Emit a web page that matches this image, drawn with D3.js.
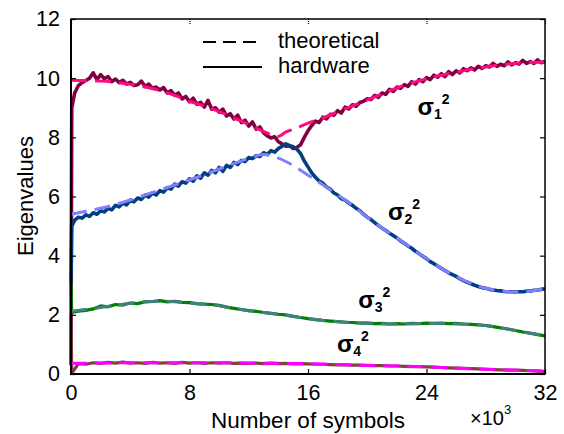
<!DOCTYPE html>
<html><head><meta charset="utf-8">
<script src="https://cdn.jsdelivr.net/npm/d3@7"></script>
<style>
body{margin:0;background:#fff;}
text{font-family:"Liberation Sans",Arial,sans-serif;}
</style></head>
<body><svg id="c" width="564" height="434"></svg>
<script>
// ---------- data (x in thousands of symbols) ----------
const xTicks = [0, 8, 16, 24, 32];
const yTicks = [0, 2, 4, 6, 8, 10, 12];

// theoretical curves: [symbols (x10^3), eigenvalue]
const theo1 = [[0,9.93],[1,9.92],[2,9.9],[3,9.86],[4,9.79],[5,9.7],[6,9.58],[7,9.42],[8,9.22],[9,9.05],[10,8.87],[11,8.65],[12,8.43],[13,8.2],[14,8.03],[14.5,8.18],[15,8.27],[16,8.48],[17,8.66],[18,8.86],[19,9.06],[20,9.27],[21,9.47],[22,9.67],[23,9.84],[24,9.98],[25,10.1],[26,10.2],[27,10.3],[28,10.38],[29,10.45],[30,10.5],[31,10.53],[32,10.55]];
const theo2 = [[0,5.4],[1,5.5],[2,5.6],[3,5.73],[4,5.88],[5,6.05],[6,6.22],[7,6.39],[8,6.56],[9,6.74],[10,6.93],[11,7.11],[12,7.29],[13,7.42],[14,7.3],[15,7.05],[16,6.72],[17,6.4],[18,6.06],[19,5.7],[20,5.3],[21,4.93],[22,4.6],[23,4.25],[24,3.9],[25,3.57],[26,3.3],[27,3.06],[28,2.9],[29,2.81],[30,2.77],[31,2.8],[32,2.88]];
const theo3 = [[0,2.12],[1,2.18],[2,2.25],[3,2.32],[4,2.39],[5,2.44],[6,2.46],[7,2.44],[8,2.4],[9,2.36],[10,2.31],[11,2.22],[12,2.14],[13,2.08],[14,2.02],[15,1.95],[16,1.87],[17,1.81],[18,1.77],[19,1.74],[20,1.72],[21,1.7],[22,1.69],[23,1.7],[24,1.71],[25,1.71],[26,1.7],[27,1.68],[28,1.64],[29,1.56],[30,1.47],[31,1.38],[32,1.3]];
const theo4 = [[0,0.36],[2,0.37],[4,0.38],[6,0.38],[8,0.38],[10,0.38],[12,0.37],[14,0.36],[16,0.35],[18,0.32],[20,0.29],[22,0.27],[24,0.24],[26,0.2],[28,0.16],[30,0.13],[32,0.1]];

// hardware sample positions (x10^3 symbols)
const hwFine = [0, 0.05].concat(d3.range(1, 129).map(i => i * 0.25));
const hwCoarse = [0, 0.05].concat(d3.range(1, 65).map(i => i * 0.5));

const hw1 = [0.3,9.0,
 9.5,9.75,9.85,9.92,10.0,10.18,9.95,10.12,9.98,10.05,9.88,9.97,9.85,9.93,9.8,9.86,
 9.75,9.78,9.9,9.72,9.8,9.66,9.7,9.6,9.68,9.5,9.58,9.42,9.5,9.3,9.38,9.2,
 9.32,9.12,9.18,9.02,9.25,8.95,9.0,8.85,8.95,8.72,8.8,8.62,8.75,8.5,8.58,8.38,
 8.52,8.28,8.35,8.15,8.05,7.98,8.02,7.85,7.78,7.7,7.72,7.62,7.66,7.75,8.0,8.22,
 8.4,8.55,8.5,8.68,8.62,8.78,8.75,8.9,8.82,9.02,8.96,9.1,9.05,9.18,9.22,9.3,
 9.28,9.42,9.35,9.5,9.45,9.62,9.55,9.7,9.66,9.78,9.72,9.88,9.8,9.95,9.88,10.02,
 9.95,10.1,10.03,10.15,10.05,10.22,10.12,10.25,10.18,10.32,10.25,10.35,10.28,10.4,10.33,10.42,
 10.38,10.5,10.4,10.47,10.42,10.55,10.45,10.52,10.48,10.6,10.5,10.56,10.5,10.62,10.52,10.58];
const hw2 = [3.1,5.0,
 5.2,5.3,5.27,5.38,5.33,5.45,5.4,5.52,5.48,5.6,5.55,5.7,5.65,5.78,5.72,5.88,
 5.82,5.95,5.9,6.05,5.98,6.12,6.05,6.2,6.15,6.3,6.25,6.42,6.35,6.5,6.45,6.6,
 6.52,6.7,6.62,6.8,6.72,6.88,6.8,6.98,6.85,7.05,6.98,7.15,7.08,7.22,7.18,7.32,
 7.28,7.38,7.35,7.48,7.42,7.55,7.5,7.62,7.7,7.78,7.72,7.68,7.6,7.45,7.2,7.0,
 6.8,6.65,6.52,6.45,6.32,6.25,6.12,6.05,5.92,5.88,5.78,5.7,5.6,5.52,5.4,5.3,
 5.22,5.12,5.02,4.93,4.85,4.76,4.68,4.6,4.5,4.42,4.33,4.25,4.15,4.07,3.98,3.9,
 3.8,3.73,3.65,3.57,3.5,3.42,3.36,3.3,3.22,3.16,3.1,3.05,3.0,2.96,2.92,2.9,
 2.86,2.84,2.82,2.81,2.79,2.78,2.78,2.77,2.78,2.78,2.8,2.8,2.83,2.84,2.86,2.88];
const hw3 = [3.1,2.08,
 2.12,2.15,2.2,2.3,2.27,2.35,2.33,2.4,2.38,2.44,2.45,2.48,2.44,2.46,2.42,2.41,
 2.38,2.36,2.35,2.32,2.26,2.22,2.18,2.14,2.12,2.08,2.05,2.02,2.0,1.95,1.91,1.87,
 1.84,1.81,1.79,1.77,1.75,1.74,1.72,1.72,1.7,1.71,1.69,1.7,1.69,1.71,1.7,1.72,
 1.71,1.72,1.7,1.71,1.69,1.68,1.66,1.64,1.6,1.56,1.52,1.47,1.42,1.38,1.33,1.29];
const hw4 = [2.0,0.02,
 0.35,0.33,0.38,0.36,0.39,0.37,0.4,0.37,0.38,0.36,0.39,0.37,0.38,0.36,0.39,0.37,
 0.38,0.36,0.38,0.37,0.38,0.36,0.37,0.36,0.37,0.35,0.37,0.35,0.36,0.34,0.35,0.34,
 0.33,0.33,0.32,0.31,0.31,0.3,0.3,0.29,0.28,0.28,0.27,0.27,0.26,0.25,0.25,0.24,
 0.23,0.22,0.21,0.2,0.19,0.18,0.17,0.16,0.15,0.14,0.13,0.13,0.12,0.11,0.1,0.08];

const colors = {hw:["#800040","#004080","#008000","#804040"], th:["#ff0a80","#8080ff","#408080","#ff00ff"]};
const sigmaLabels = [
  {n:"1", x:23.4, y:8.75},
  {n:"2", x:21.4, y:5.2},
  {n:"3", x:19.4, y:2.23},
  {n:"4", x:17.95, y:0.74}
];

// ---------- chart ----------
const svg = d3.select("#c");
const x = d3.scaleLinear().domain([0,32]).range([71,545]);
const y = d3.scaleLinear().domain([0,12]).range([374,19]);
const line = d3.line().x(d => x(d[0])).y(d => y(d[1]));

const hwSeries = [[hwFine,hw1],[hwFine,hw2],[hwCoarse,hw3],[hwCoarse,hw4]];
hwSeries.forEach(([xs,vs],i) => {
  svg.append("path").datum(xs.map((k,j)=>[k,vs[j]]))
    .attr("d", line).attr("fill","none").attr("stroke", colors.hw[i])
    .attr("stroke-width", i < 2 ? 3.6 : 3.2).attr("stroke-linejoin","round");
});
[theo1,theo2,theo3,theo4].forEach((s,i) => {
  svg.append("path").datum(s).attr("d", line.curve(d3.curveMonotoneX))
    .attr("fill","none").attr("stroke", colors.th[i])
    .attr("stroke-width",3).attr("stroke-dasharray","16,8");
});

// axes
const ax = g => g.selectAll(".domain").remove();
svg.append("g").attr("transform","translate(71,0)")
  .call(d3.axisLeft(y).tickValues(yTicks).tickSize(-5).tickPadding(11)).call(ax);
svg.append("g").attr("transform","translate(0,374)")
  .call(d3.axisBottom(x).tickValues(xTicks).tickSize(-5).tickPadding(11)).call(ax);
svg.append("g").attr("transform","translate(545,0)")
  .call(d3.axisRight(y).tickValues(yTicks).tickSize(-5).tickFormat("")).call(ax);
svg.append("g").attr("transform","translate(0,19)")
  .call(d3.axisTop(x).tickValues(xTicks).tickSize(-5).tickFormat("")).call(ax)
  .selectAll("line").attr("stroke-dasharray","1,1");
svg.selectAll(".tick text").attr("font-size",21.5).attr("font-family","Liberation Sans, Arial, sans-serif").attr("fill","#000");
svg.selectAll(".tick line").attr("stroke","#000").attr("stroke-width",1.2);

svg.append("rect").attr("x",71).attr("y",19).attr("width",474).attr("height",355)
  .attr("fill","none").attr("stroke","#000").attr("stroke-width",1.5);
svg.append("line").attr("x1",71).attr("x2",71).attr("y1",19).attr("y2",375).attr("stroke","#000").attr("stroke-width",2);
svg.append("line").attr("x1",70).attr("x2",545).attr("y1",374).attr("y2",374).attr("stroke","#000").attr("stroke-width",2);

// axis titles
svg.append("text").attr("transform","translate(33,196) rotate(-90)")
  .attr("text-anchor","middle").attr("font-size",22).text("Eigenvalues");
svg.append("text").attr("x",308).attr("y",428).attr("text-anchor","middle")
  .attr("font-size",22.5).text("Number of symbols");
const mult = svg.append("text").attr("x",470).attr("y",425).attr("font-size",20);
mult.append("tspan").text("×10");
mult.append("tspan").attr("dy",-11).attr("font-size",13).text("3");

// legend
svg.append("line").attr("x1",203).attr("x2",262).attr("y1",42).attr("y2",42)
  .attr("stroke","#000").attr("stroke-width",1.8).attr("stroke-dasharray","13,7");
svg.append("line").attr("x1",203).attr("x2",262).attr("y1",67).attr("y2",67)
  .attr("stroke","#000").attr("stroke-width",1.8);
svg.append("text").attr("x",278).attr("y",48).attr("font-size",22).text("theoretical");
svg.append("text").attr("x",278).attr("y",73).attr("font-size",22).text("hardware");

// sigma labels
sigmaLabels.forEach(s => {
  const t = svg.append("text").attr("x", x(s.x)).attr("y", y(s.y)).attr("font-size",24).attr("font-weight","bold");
  t.append("tspan").text("σ");
  t.append("tspan").attr("dy",4).attr("font-size",14).text(s.n);
  t.append("tspan").attr("dy",-15).attr("font-size",14).text("2");
});
</script>
</body></html>
